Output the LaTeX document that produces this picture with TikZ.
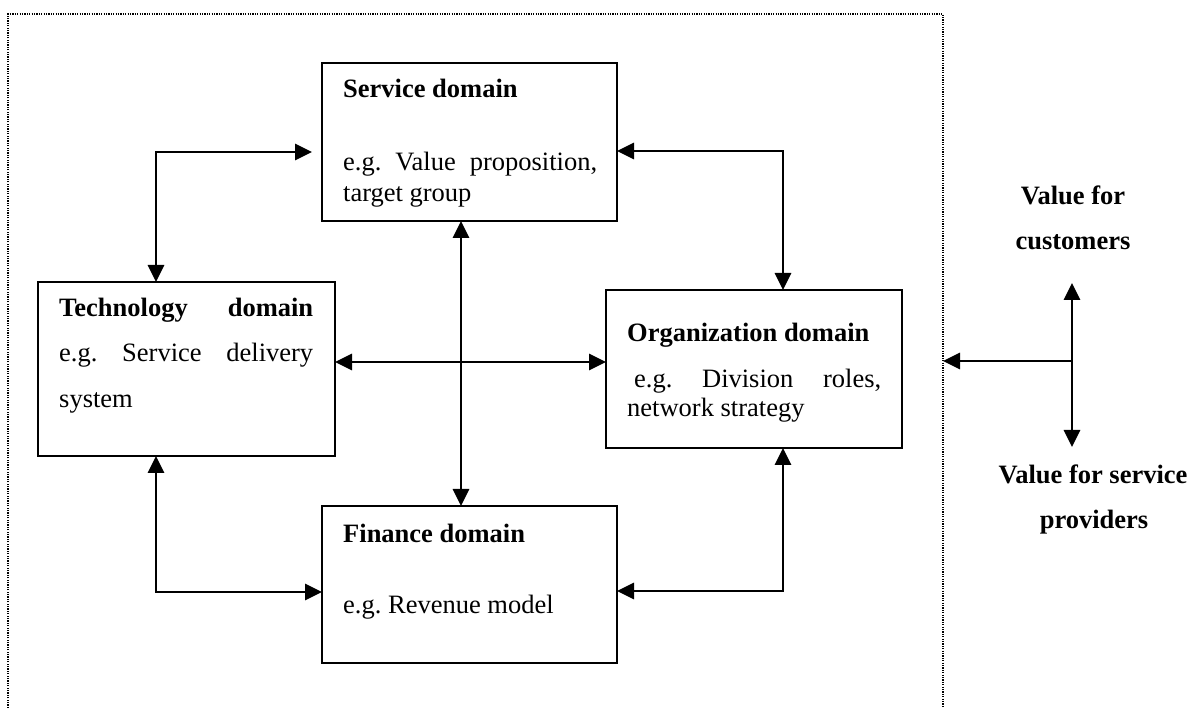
\documentclass[tikz,border=0pt]{standalone}
\usepackage{fontspec}
\setmainfont{Liberation Serif}
\usetikzlibrary{arrows.meta}
\tikzset{
  box/.style={draw, line width=2pt, inner sep=0pt, outer sep=0pt},
  txt/.style={anchor=base west, inner sep=0pt, font=\fontsize{26.5pt}{31pt}\selectfont},
  rtxt/.style={anchor=base, inner sep=0pt, font=\fontsize{26.5pt}{31pt}\selectfont\bfseries},
  tip/.tip={Triangle[length=17pt,width=16pt]},
  dbl/.style={line width=2.8pt, tip-tip},
  arr/.style={line width=2.8pt, -tip},
  frame/.style={line width=1.5pt, dash pattern=on 1.2pt off 1.2pt}
}
\begin{document}
\begin{tikzpicture}[x=1pt,y=-1pt]
\useasboundingbox (0,0) rectangle (1192,708);
% dotted frame
\draw[frame] (8,708) -- (8,14) -- (943,14) -- (943,708);
% boxes
\node[box, minimum width=295pt, minimum height=158pt] (serv) at (469.5,142) {};
\node[box, minimum width=297pt, minimum height=174pt] (tech) at (186.5,369) {};
\node[box, minimum width=296pt, minimum height=158pt] (org) at (754,369) {};
\node[box, minimum width=295pt, minimum height=157pt] (fin) at (469.5,584.5) {};
% texts
\node[txt] (s1) at (343,98) {\bfseries Service domain};
\node[txt] (s2) at (343,171) {\makebox[254pt][s]{e.g.\ Value proposition,}};
\node[txt] (s3) at (343,202) {target group};
\node[txt] (t1) at (59,317) {\makebox[254pt][s]{\bfseries Technology domain}};
\node[txt] (t2) at (59,362) {\makebox[254pt][s]{e.g.\ Service delivery}};
\node[txt] (t3) at (59,408) {system};
\node[txt] (o1) at (627,342) {\bfseries Organization domain};
\node[txt] (o2) at (634,388) {\makebox[247pt][s]{e.g.\ Division roles,}};
\node[txt] (o3) at (627,417) {network strategy};
\node[txt] (f1) at (343,542) {\bfseries Finance domain};
\node[txt] (f2) at (343,613) {e.g.\ Revenue model};
\node[rtxt] (v1) at (1073,205) {Value for};
\node[rtxt] (v2) at (1073,250) {customers};
\node[rtxt] (p1) at (1093,483) {Value for service};
\node[rtxt] (p2) at (1094,528) {providers};
% connectors
\draw[dbl] ([xshift=118pt]tech.north west) |- ([shift={(-10pt,-10pt)}]serv.west);
\draw[dbl] ([yshift=-9pt]serv.east) -| ([xshift=29pt]org.north);
\draw[dbl] ([xshift=-8.5pt]serv.south) -- ([xshift=-8.5pt]fin.north);
\draw[dbl] ([yshift=7pt]tech.east) -- ([yshift=7pt]org.west);
\draw[dbl] ([xshift=118pt]tech.south west) |- ([yshift=-7.5pt]fin.west);
\draw[dbl] ([yshift=-6.5pt]fin.east) -| ([xshift=29pt]org.south);
% right side
\coordinate (j) at (1072,361);
\coordinate (fr) at (943,361);
\coordinate (up) at (1072,283);
\coordinate (dn) at (1072,447);
\draw[arr] (j) -- (fr);
\draw[dbl] (up) -- (dn);
\end{tikzpicture}
\end{document}
